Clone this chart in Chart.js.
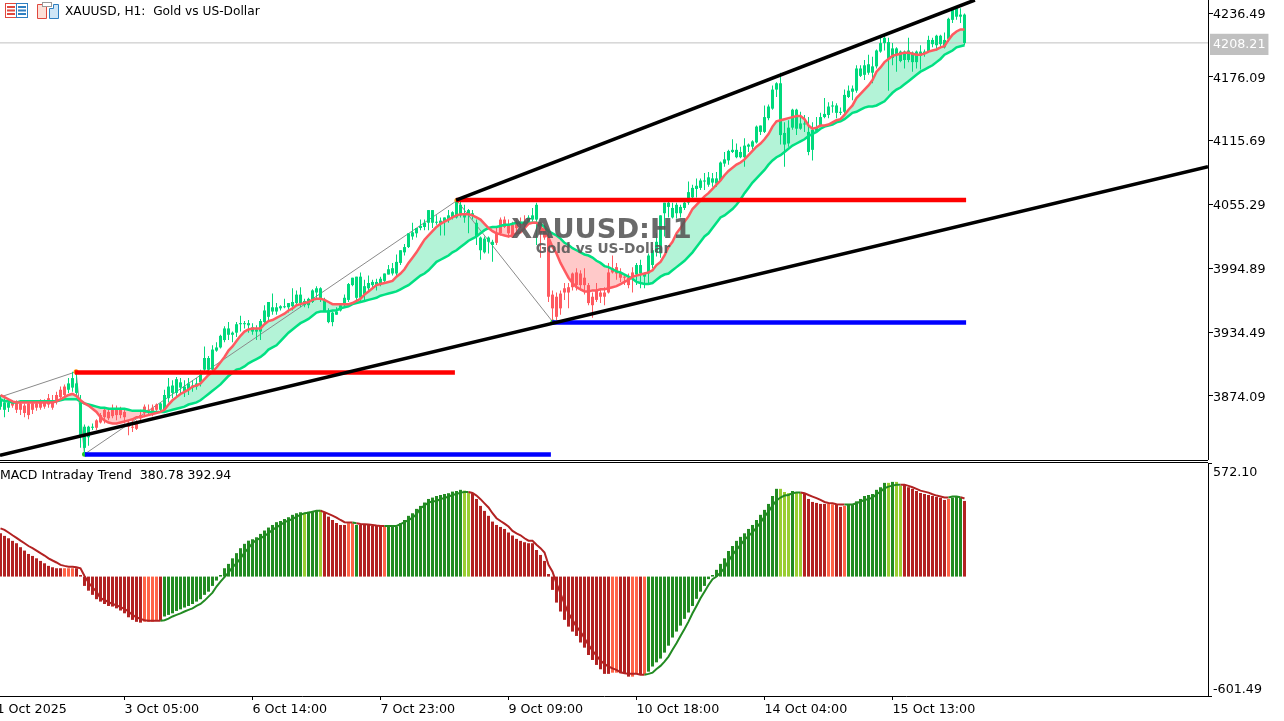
<!DOCTYPE html>
<html lang="en">
<head>
  <meta charset="UTF-8">
  <title>XAUUSD, H1</title>
  <script src="https://cdn.jsdelivr.net/npm/chart.js"></script>
  <style>
    html, body { margin: 0; padding: 0; background: #fff; overflow: hidden; }
    body { width: 1284px; height: 721px; position: relative; font-family: "DejaVu Sans", sans-serif; }
    canvas { position: absolute; left: 0; }
    #priceChart { top: 0; }
    #macdChart { top: 463px; }
    .sep { position: absolute; left: 0; width: 1208px; height: 1px; background: #000; }
    .label { position: absolute; color: #000; white-space: pre; line-height: 14px; }
    .mark { position: absolute; left: 0; width: 1208px; text-align: center; font-weight: bold; white-space: pre; color: rgba(85,85,85,0.88); }
    svg { position: absolute; }
  </style>
</head>
<body>
  <canvas id="priceChart" width="1284" height="460"></canvas>
  <canvas id="macdChart" width="1284" height="258"></canvas>
  <div class="sep" style="top:460px"></div>
  <div class="sep" style="top:462px"></div>

  <svg style="left:5px;top:3px" width="23" height="15" viewBox="0 0 23 15">
    <rect x="0.5" y="0.5" width="11" height="14" fill="#fff" stroke="#e0483e"/>
    <rect x="11.5" y="0.5" width="11" height="14" fill="#fff" stroke="#2f7fc1"/>
    <path d="M2 4h8M2 7.5h8M2 11h8" stroke="#e0483e" stroke-width="2"/>
    <path d="M13 4h8M13 7.5h8M13 11h8" stroke="#2f7fc1" stroke-width="2"/>
  </svg>
  <svg style="left:37px;top:2px" width="22" height="17" viewBox="0 0 22 17">
    <path d="M0.5 2.5h5v2h2v-2h2v14h-9z" fill="#fde0d8" stroke="#e0483e"/>
    <path d="M12.5 6.5h4v-4h5v14h-9z" fill="#cfe6f7" stroke="#2f7fc1"/>
    <rect x="5.5" y="0.5" width="9" height="4" fill="#fff" stroke="#999"/>
  </svg>
  <div class="label" style="left:65px;top:4px;font-size:12.2px">XAUUSD, H1:  Gold vs US-Dollar</div>
  <div class="label" style="left:0;top:468px;font-size:12.5px">MACD Intraday Trend  380.78 392.94</div>
  <div class="mark" style="top:212px;font-size:27.3px;line-height:34px;left:-2.5px">XAUUSD:H1</div>
  <div class="mark" style="top:240px;font-size:13.7px;line-height:16px;left:-1px">Gold vs US-Dollar</div>

  <script>
    const candleOpen = [3864,3861,3863,3865,3861,3861,3858,3856,3861,3863,3863,3864,3866,3863,3870,3873,3875,3880,3882,3877,
      3868,3845,3845,3845,3851,3856,3861,3859,3862,3862,3861,3859,3849,3845,3849,3856,3864,3861,3863,3866,
      3861,3861,3872,3877,3877,3882,3878,3880,3882,3883,3887,3899,3899,3899,3917,3920,3927,3932,3932,3934,
      3942,3942,3941,3935,3935,3935,3944,3949,3954,3954,3957,3958,3958,3959,3962,3962,3960,3960,3963,3972,
      3965,3965,3955,3953,3951,3955,3960,3965,3979,3967,3967,3970,3976,3979,3979,3981,3983,3989,3990,3990,
      4000,4010,4015,4025,4028,4033,4034,4038,4038,4038,4037,4039,4041,4043,4043,4045,4043,4046,4045,4038,
      4024,4023,4024,4020,4019,4028,4034,4028,4024,4033,4036,4036,4038,4041,4041,4038,4033,4025,3970,3968,
      3971,3976,3977,3977,3979,3979,3979,3979,3968,3974,3972,3972,3972,3991,3990,3986,3986,3979,3991,3989,
      3990,3987,3990,3998,4010,4009,4047,4053,4043,4047,4047,4052,4057,4062,4070,4071,4077,4074,4076,4075,
      4078,4094,4097,4105,4100,4100,4100,4110,4110,4114,4124,4124,4137,4146,4164,4121,4112,4113,4128,4127,
      4127,4131,4105,4107,4125,4130,4138,4140,4148,4142,4142,4143,4157,4162,4163,4177,4178,4180,4180,4186,
      4200,4208,4193,4194,4197,4191,4192,4192,4190,4190,4196,4198,4200,4207,4206,4207,4204,4212,4230,4233,
      4233,4235];
    const candleClose = [3870,3868,3868,3868,3868,3867,3865,3867,3867,3867,3868,3868,3872,3870,3875,3880,3883,3886,3891,3886,
      3837,3825,3835,3844,3844,3849,3854,3853,3855,3856,3856,3854,3845,3844,3843,3853,3858,3859,3859,3861,
      3867,3875,3883,3884,3890,3887,3883,3886,3884,3886,3894,3910,3910,3918,3920,3931,3938,3938,3934,3942,
      3943,3943,3943,3939,3937,3945,3955,3963,3958,3958,3959,3959,3962,3963,3970,3970,3964,3966,3974,3976,
      3976,3954,3944,3944,3954,3960,3967,3980,3986,3987,3987,3978,3981,3982,3982,3985,3990,3994,3995,4001,
      4012,4015,4028,4029,4033,4035,4038,4050,4050,4039,4040,4043,4045,4048,4058,4055,4047,4050,4047,4025,
      4012,4010,4020,4017,4028,4041,4041,4036,4036,4038,4039,4039,4043,4045,4055,4028,4024,3968,3957,3949,
      3957,3972,3972,3990,3991,3990,3986,3962,3960,3965,3968,3968,3991,3995,3996,3991,3987,3986,3986,3998,
      3998,3990,4007,4012,4020,4045,4057,4057,4052,4055,4053,4057,4067,4071,4073,4078,4078,4081,4080,4080,
      4095,4098,4106,4107,4107,4105,4111,4112,4115,4129,4130,4138,4148,4164,4170,4170,4123,4128,4145,4145,
      4132,4132,4124,4126,4128,4138,4141,4148,4149,4149,4143,4159,4163,4165,4184,4184,4187,4188,4186,4201,
      4208,4213,4209,4203,4203,4200,4200,4201,4199,4200,4200,4200,4211,4211,4215,4215,4211,4231,4241,4241,
      4235,4208];
    const candleHigh = [3875,3872,3870,3870,3870,3870,3867,3870,3870,3870,3871,3871,3876,3875,3878,3883,3885,3891,3897,3897,
      3875,3847,3846,3848,3852,3858,3863,3863,3866,3865,3864,3861,3851,3851,3851,3861,3866,3866,3866,3867,
      3868,3880,3891,3889,3892,3891,3889,3891,3889,3891,3899,3921,3912,3922,3925,3932,3940,3944,3935,3944,
      3950,3945,3946,3943,3941,3947,3960,3963,3971,3962,3960,3966,3962,3976,3974,3977,3966,3967,3975,3978,
      3977,3967,3957,3954,3958,3962,3970,3981,3986,3987,3991,3984,3988,3984,3985,3987,3990,3998,4000,4008,
      4012,4018,4028,4038,4033,4041,4041,4050,4050,4045,4043,4043,4050,4049,4060,4058,4055,4051,4050,4041,
      4025,4025,4025,4022,4033,4043,4044,4041,4039,4041,4043,4045,4045,4052,4057,4039,4036,4031,3974,3972,
      3974,3981,3981,3991,3995,3993,3995,3981,3972,3981,3976,3977,4000,4007,4000,3995,3989,3990,3996,4000,
      4003,3991,4009,4014,4028,4045,4057,4061,4057,4057,4055,4060,4077,4074,4080,4080,4085,4086,4085,4086,
      4096,4105,4107,4117,4113,4110,4118,4113,4116,4130,4130,4149,4150,4168,4171,4180,4133,4135,4146,4146,
      4143,4140,4138,4133,4138,4142,4156,4152,4153,4151,4147,4164,4168,4168,4187,4187,4192,4197,4195,4202,
      4215,4215,4213,4208,4204,4201,4201,4213,4200,4201,4206,4202,4215,4213,4216,4216,4218,4232,4242,4241,
      4241,4236];
    const candleLow = [3861,3854,3859,3863,3858,3856,3854,3852,3857,3860,3861,3862,3863,3861,3866,3870,3872,3877,3878,3873,
      3825,3819,3827,3842,3842,3848,3848,3851,3853,3851,3853,3848,3837,3840,3842,3851,3854,3856,3855,3857,
      3859,3858,3868,3872,3873,3877,3873,3875,3878,3880,3883,3897,3897,3897,3916,3919,3925,3927,3925,3930,
      3935,3938,3934,3932,3927,3927,3943,3944,3951,3951,3955,3957,3953,3955,3960,3958,3958,3957,3962,3965,
      3963,3954,3943,3940,3951,3954,3958,3963,3978,3965,3962,3965,3974,3976,3974,3978,3981,3989,3988,3987,
      3998,4007,4014,4022,4024,4031,4031,4031,4033,4036,4026,4026,4038,4041,4042,4043,4038,4028,4041,4017,
      4003,4009,4009,4001,4017,4026,4033,4024,4024,4029,4033,4033,4036,4039,4017,4005,4022,3963,3944,3946,
      3951,3965,3957,3974,3974,3974,3970,3960,3948,3963,3962,3960,3971,3990,3984,3982,3979,3976,3972,3979,
      3976,3976,3979,3995,4006,4005,4025,4043,4042,4042,4043,4050,4055,4060,4062,4069,4069,4072,4072,4072,
      4077,4091,4093,4104,4099,4099,4091,4105,4107,4113,4121,4123,4135,4145,4157,4112,4091,4110,4126,4121,
      4126,4124,4102,4097,4123,4129,4137,4137,4142,4137,4140,4140,4156,4154,4161,4176,4173,4178,4170,4184,
      4199,4201,4163,4187,4181,4190,4184,4190,4181,4184,4183,4195,4199,4204,4201,4204,4203,4209,4227,4230,
      4227,4206];

    const maFast = [3875,3873,3871,3869,3868,3868,3868,3868,3868,3868,3868,3868,3868,3868,3869,3871,3873,3875,3876,3874,
      3870,3867,3865,3862,3859,3854,3851,3849,3848,3848,3849,3850,3851,3852,3854,3854,3855,3856,3857,3858,
      3859,3861,3866,3870,3873,3876,3878,3880,3883,3884,3886,3890,3894,3897,3901,3906,3911,3917,3921,3926,
      3931,3935,3937,3938,3938,3938,3942,3945,3946,3948,3950,3952,3955,3957,3960,3961,3962,3963,3965,3966,
      3966,3965,3963,3961,3961,3961,3961,3961,3962,3964,3966,3970,3973,3976,3979,3980,3981,3982,3983,3987,
      3990,3994,4000,4005,4010,4016,4022,4026,4030,4034,4037,4039,4041,4043,4045,4046,4046,4046,4045,4043,
      4041,4037,4033,4030,4028,4027,4026,4025,4026,4028,4029,4033,4037,4038,4038,4034,4029,4024,4015,4009,
      4000,3993,3986,3981,3977,3975,3973,3973,3974,3974,3975,3975,3976,3977,3978,3980,3982,3984,3987,3988,
      3989,3990,3991,3993,3998,4001,4007,4015,4020,4028,4033,4039,4044,4051,4055,4059,4063,4066,4070,4074,
      4078,4083,4087,4090,4093,4095,4098,4102,4106,4110,4113,4117,4122,4129,4134,4135,4136,4137,4138,4139,
      4139,4136,4130,4127,4128,4130,4130,4131,4133,4135,4136,4140,4145,4149,4156,4160,4164,4168,4173,4181,
      4185,4190,4193,4196,4197,4198,4199,4199,4198,4197,4197,4198,4200,4201,4202,4204,4205,4211,4216,4219,
      4221,4221];
    const maSlow = [3871,3869,3869,3868,3868,3869,3869,3869,3869,3869,3869,3869,3869,3869,3869,3870,3871,3871,3871,3871,
      3869,3867,3866,3865,3864,3863,3863,3862,3862,3862,3862,3862,3861,3860,3860,3860,3860,3859,3859,3859,
      3859,3859,3860,3861,3862,3863,3864,3866,3867,3868,3870,3873,3876,3879,3882,3885,3889,3893,3896,3899,
      3900,3902,3905,3907,3909,3911,3914,3918,3920,3922,3926,3930,3934,3937,3940,3943,3945,3947,3950,3953,
      3954,3954,3954,3955,3955,3957,3958,3959,3961,3962,3963,3964,3965,3966,3967,3969,3970,3971,3972,3973,
      3975,3977,3979,3982,3985,3988,3990,3993,3997,4001,4003,4005,4007,4010,4012,4015,4018,4021,4023,4025,
      4028,4031,4033,4034,4034,4035,4036,4036,4037,4038,4038,4038,4038,4038,4038,4037,4034,4030,4028,4026,
      4023,4019,4017,4014,4012,4010,4008,4007,4005,4002,4000,3997,3996,3994,3992,3991,3989,3987,3985,3982,
      3981,3980,3980,3981,3984,3987,3989,3990,3993,3996,3999,4002,4006,4010,4015,4020,4025,4028,4033,4038,
      4043,4045,4048,4051,4055,4060,4066,4071,4076,4080,4084,4088,4093,4097,4100,4102,4105,4108,4111,4113,
      4115,4117,4120,4122,4124,4127,4129,4130,4131,4133,4134,4136,4139,4142,4143,4145,4147,4148,4148,4149,
      4151,4153,4157,4161,4164,4166,4169,4172,4175,4178,4181,4183,4185,4187,4190,4193,4197,4199,4201,4204,
      4205,4206];

    const macdHist = [218,205,193,180,168,148,131,114,104,92,79,67,54,47,42,42,42,42,42,42,
      8,-47,-71,-92,-114,-126,-138,-148,-151,-160,-171,-185,-205,-218,-228,-232,-227,-227,-227,-223,
      -222,-201,-193,-185,-173,-165,-156,-148,-138,-126,-114,-92,-76,-47,-20,8,42,64,92,118,
      143,165,181,188,198,215,232,247,260,274,280,290,299,311,319,324,319,327,327,332,
      336,322,302,285,270,260,260,269,269,260,260,260,260,255,255,255,252,252,252,252,
      269,285,306,319,341,356,373,391,398,406,411,416,420,428,431,437,433,423,420,391,
      356,331,306,277,260,250,240,222,207,190,180,173,168,168,134,109,79,13,-67,-131,
      -176,-218,-252,-277,-299,-332,-358,-395,-420,-445,-467,-490,-490,-484,-484,-487,-490,-504,-504,-487,
      -495,-492,-479,-453,-432,-413,-383,-348,-307,-277,-247,-213,-181,-148,-112,-76,-47,-13,8,34,
      64,92,129,154,180,200,218,240,260,285,311,336,366,406,442,442,426,420,431,423,
      423,416,391,376,371,366,366,366,364,361,351,356,361,361,379,391,406,411,416,437,
      450,472,472,477,477,457,462,450,442,431,421,416,411,406,401,396,386,391,398,403,
      398,381];
    const macdSignal = [243,235,222,208,195,181,168,154,143,131,118,106,92,81,71,59,54,50,49,47,
      42,3,-30,-54,-76,-109,-118,-129,-138,-144,-154,-163,-176,-193,-205,-213,-220,-222,-222,-222,
      -222,-220,-212,-201,-193,-185,-176,-168,-160,-148,-138,-121,-101,-81,-50,-25,-3,20,47,67,
      92,121,143,168,185,193,205,218,235,248,260,274,282,290,302,311,319,322,327,331,
      332,324,316,307,297,285,274,272,272,269,265,264,262,260,257,255,255,255,255,255,
      264,274,284,297,314,344,358,373,378,381,390,396,403,411,416,423,426,426,421,408,
      390,369,348,319,294,280,267,252,230,218,208,193,181,180,160,143,121,59,25,-34,
      -84,-138,-185,-218,-252,-277,-311,-344,-373,-398,-423,-440,-453,-462,-470,-482,-487,-490,-490,-490,
      -494,-494,-490,-484,-465,-450,-428,-403,-369,-336,-299,-264,-227,-185,-148,-109,-76,-42,-13,0,
      20,42,79,109,134,160,185,205,223,247,272,302,327,358,383,398,408,411,420,423,
      423,420,411,403,395,386,376,371,369,364,363,363,363,363,369,378,386,390,398,415,
      428,445,453,458,463,463,463,457,450,442,433,428,423,415,408,403,398,398,403,403,
      400,393];

    // colour class of each run, [class, length]: 0 firebrick, 1 tomato, 2 forestgreen, 3 yellowgreen
    const macdColorRuns = [[0,16],[1,3],[0,17],[1,4],[0,1],[2,35],[3,1],[2,3],[3,1],[0,6],[1,2],[2,1],[0,6],[1,1],[2,19],[3,2],
      [0,35],[1,2],[0,3],[1,2],[0,1],[1,1],[2,33],[3,3],[2,1],[3,2],[0,6],[1,2],[0,2],[1,1],[2,10],[3,1],[2,1],[3,2],[0,11],[1,1],[2,3],[0,1]];
    // candle colour runs, [up, length]
    const candleTrendRuns = [[1,3],[0,14],[1,7],[0,16],[1,84],[0,8],[1,3],[0,24],[1,83]];

    const priceTickValues = [4236.49, 4208.21, 4176.09, 4115.69, 4055.29, 3994.89, 3934.49, 3874.09];
    const bidPrice = 4208.21;
    const macdTickValues = [572.1, 532, -561, -601.49];
    const macdTickLabels = ['', '572.10', '-601.49', ''];
    const timeTickIndex = [-1, 31, 63, 95, 127, 159, 191, 223];
    const timeTickLabels = ['1 Oct 2025', '3 Oct 05:00', '6 Oct 14:00', '7 Oct 23:00', '9 Oct 09:00', '10 Oct 18:00', '14 Oct 04:00', '15 Oct 13:00'];

    const zigzagPoints = [[-0.125, 3873], [18.9, 3897], [21, 3819], [114.1, 4059], [138.1, 3944]];
    const supportLine = [[-0.125, 3818], [301.875, 4091]];
    const channelLine = [[113.9, 4059.5], [243.6, 4248.8]];
    const resistLevels = [[18.6, 113.6, 3896.3], [113.9, 241.4, 4059.5]];
    const floorLevels = [[21.1, 137.6, 3818.7], [137.9, 241.4, 3943.6]];

    const xMin = -0.125, xMax = 301.875;
    const font = { family: '"DejaVu Sans", sans-serif', size: 12.7 };

    function expandRuns(runs) {
      const out = [];
      runs.forEach(r => { for (let k = 0; k < r[1]; k++) out.push(r[0]); });
      return out;
    }
    function toPoints(pairs) { return pairs.map(p => ({ x: p[0], y: p[1] })); }
    function levelSet(level, color) {
      return {
        type: 'line', data: [{ x: level[0], y: level[2] }, { x: level[1], y: level[2] }],
        borderColor: color, borderWidth: 4.5, borderCapStyle: 'butt', pointRadius: 0, order: 1
      };
    }
    // the tick labels must not push the plot area in from the canvas edge
    function noPadding(s) {
      s.paddingLeft = 0; s.paddingRight = 0; s.paddingTop = 0; s.paddingBottom = 0;
    }

    const candleUp = expandRuns(candleTrendRuns);
    const macdClass = expandRuns(macdColorRuns);
    const candleColors = candleUp.map(u => u ? '#00d97c' : '#ff5a60');
    const macdPalette = ['#b22222', '#ff6347', '#228b22', '#9acd32'];

    const xHidden = { type: 'linear', min: xMin, max: xMax, offset: false, display: false, grid: { offset: false } };

    new Chart(document.getElementById('priceChart'), {
      type: 'bar',
      data: {
        datasets: [
          { type: 'line', data: toPoints(zigzagPoints), borderColor: '#8a8a8a', borderWidth: 1, order: 5,
            pointRadius: [0, 2.5, 2.5, 2.5, 2.5], pointBorderWidth: 0,
            pointBackgroundColor: ['#888', '#ff9000', '#22cc22', '#ff9000', '#22cc22'] },
          { data: candleHigh.map((h, i) => ({ x: i, y: [candleLow[i], h] })), backgroundColor: candleColors,
            barThickness: 1, grouped: false, inflateAmount: 0, order: 4 },
          { data: candleOpen.map((o, i) => ({ x: i, y: [o, candleClose[i]] })), backgroundColor: candleColors,
            barThickness: 3, grouped: false, inflateAmount: 0, order: 3.5 },
          { type: 'line', data: maSlow.map((v, i) => ({ x: i, y: v })), borderColor: '#00e082', borderWidth: 2.5, pointRadius: 0, order: 3 },
          { type: 'line', data: maFast.map((v, i) => ({ x: i, y: v })), borderColor: '#ff5a60', borderWidth: 2.5, pointRadius: 0, order: 2 },
          // fill band between the two averages, kept under the candles
          { type: 'line', data: maFast.map((v, i) => ({ x: i, y: v })), borderWidth: 0, pointRadius: 0, order: 9,
            fill: { target: 3, above: '#b3f3d7', below: '#ffc9c9' } },
          { type: 'line', data: [{ x: xMin, y: bidPrice }, { x: xMax, y: bidPrice }], borderColor: '#c0c0c0', borderWidth: 1, pointRadius: 0, order: 8 },
          { type: 'line', data: toPoints(supportLine), borderColor: '#000', borderWidth: 3.5, pointRadius: 0, order: 1 },
          { type: 'line', data: toPoints(channelLine), borderColor: '#000', borderWidth: 3.5, pointRadius: 0, order: 1 },
          levelSet(resistLevels[0], '#ff0000'), levelSet(resistLevels[1], '#ff0000'),
          levelSet(floorLevels[0], '#0000ff'), levelSet(floorLevels[1], '#0000ff')
        ]
      },
      options: {
        responsive: false, animation: false, events: [],
        layout: { padding: 0, autoPadding: false },
        plugins: { legend: { display: false }, tooltip: { enabled: false } },
        scales: {
          x: xHidden,
          y: {
            position: 'right', min: 3813.5, max: 4248.8,
            afterFit: s => { s.width = 76; noPadding(s); },
            afterBuildTicks: s => { s.ticks = priceTickValues.map(v => ({ value: v })); },
            border: { color: '#000' },
            grid: {
              drawOnChartArea: false, tickLength: 5,
              tickColor: c => c.tick && c.tick.value === bidPrice ? 'rgba(0,0,0,0)' : '#000'
            },
            ticks: {
              autoSkip: false, padding: 0, font: font, labelOffset: 1.5,
              color: c => c.tick && c.tick.value === bidPrice ? '#fff' : '#000',
              callback: v => v.toFixed(2),
              showLabelBackdrop: c => !!(c.tick && c.tick.value === bidPrice),
              backdropColor: '#c0c0c0',
              backdropPadding: { left: 3, right: 3, top: 3, bottom: 3 }
            }
          }
        }
      }
    });

    new Chart(document.getElementById('macdChart'), {
      type: 'bar',
      data: {
        datasets: [
          { data: macdHist.map((v, i) => ({ x: i, y: v })), backgroundColor: macdClass.map(c => macdPalette[c]),
            barThickness: 3, inflateAmount: 0, order: 2 },
          { type: 'line', data: macdSignal.map((v, i) => ({ x: i, y: v })), borderWidth: 2, pointRadius: 0, order: 1,
            borderColor: '#b22222',
            segment: { borderColor: c => macdClass[c.p1DataIndex] <= 1 ? '#b22222' : '#228b22' } }
        ]
      },
      options: {
        responsive: false, animation: false, events: [],
        layout: { padding: 0, autoPadding: false },
        plugins: { legend: { display: false }, tooltip: { enabled: false } },
        scales: {
          x: {
            type: 'linear', min: xMin, max: xMax, offset: false,
            afterFit: s => { s.height = 25; noPadding(s); },
            afterBuildTicks: s => { s.ticks = timeTickIndex.map(v => ({ value: v })); },
            border: { color: '#000' },
            grid: { drawOnChartArea: false, offset: false, tickLength: 4, tickColor: '#000' },
            ticks: {
              autoSkip: false, maxRotation: 0, align: 'start', padding: 2, font: font, color: '#000',
              callback: (v, i) => timeTickLabels[i]
            }
          },
          y: {
            position: 'right', min: -601.49, max: 572.1,
            afterFit: s => { s.width = 76; noPadding(s); },
            afterBuildTicks: s => { s.ticks = macdTickValues.map(v => ({ value: v })); },
            border: { color: '#000' },
            grid: {
              drawOnChartArea: false, tickLength: 4,
              tickColor: c => c.tick && (c.tick.value === 532 || c.tick.value === -561) ? 'rgba(0,0,0,0)' : '#000'
            },
            ticks: { autoSkip: false, padding: 1, font: font, labelOffset: 1.5, color: '#000', callback: (v, i) => macdTickLabels[i] }
          }
        }
      }
    });
  </script>
</body>
</html>
